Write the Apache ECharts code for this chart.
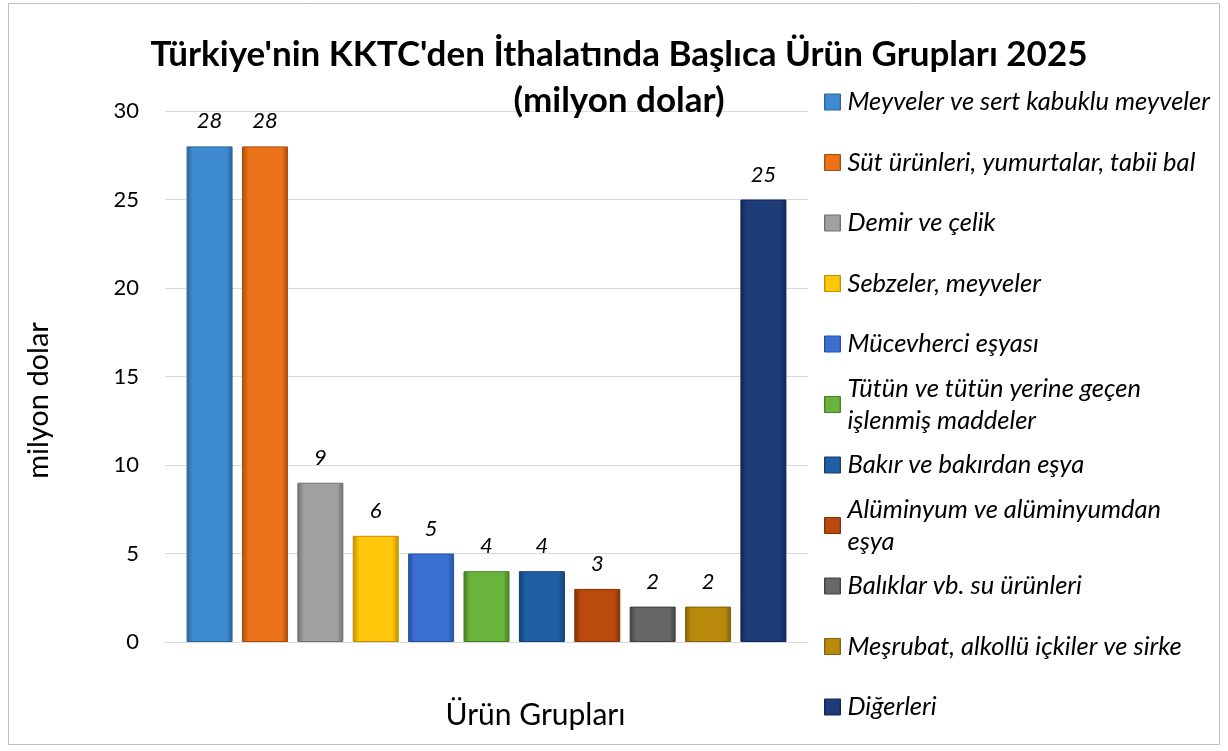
<!DOCTYPE html>
<html>
<head>
<meta charset="utf-8">
<script src="https://cdn.jsdelivr.net/npm/echarts@6/dist/echarts.min.js"></script>
<style>
html,body{margin:0;padding:0;background:#fff;}
#chart{width:1228px;height:751px;}
</style>
</head>
<body>
<div id="chart"></div>
<script>
var titleText = "Türkiye'nin KKTC'den İthalatında Başlıca Ürün Grupları 2025\n(milyon dolar)";
var categories = ["Meyveler ve sert kabuklu meyveler","Süt ürünleri, yumurtalar, tabii bal","Demir ve çelik","Sebzeler, meyveler","Mücevherci eşyası","Tütün ve tütün yerine geçen işlenmiş maddeler","Bakır ve bakırdan eşya","Alüminyum ve alüminyumdan eşya","Balıklar vb. su ürünleri","Meşrubat, alkollü içkiler ve sirke","Diğerleri"];
var legendLabels = ["Meyveler ve sert kabuklu meyveler","Süt ürünleri, yumurtalar, tabii bal","Demir ve çelik","Sebzeler, meyveler","Mücevherci eşyası","Tütün ve tütün yerine geçen\nişlenmiş maddeler","Bakır ve bakırdan eşya","Alüminyum ve alüminyumdan\neşya","Balıklar vb. su ürünleri","Meşrubat, alkollü içkiler ve sirke","Diğerleri"];
var values = [28, 28, 9, 6, 5, 4, 4, 3, 2, 2, 25];
var yTicks = [0, 5, 10, 15, 20, 25, 30];
var xAxisTitle = "Ürün Grupları";
var yAxisTitle = "milyon dolar";

var baseColors = ["#3f8bd2","#ec7219","#a0a0a0","#ffc60a","#3a70d2","#6ab33c","#1f5fa3","#bb4a0e","#676767","#b98a0c","#1e3c78"];
var edgeColors = ["#2a6499","#a84d0c","#707070","#c08f00","#24509e","#467f25","#123f70","#7f3006","#404040","#82620a","#102656"];

var LH = 32;
function barColor(i){
  return {type:'linear',x:0,y:0,x2:1,y2:0,colorStops:[
    {offset:0,color:edgeColors[i]},{offset:0.14,color:baseColors[i]},
    {offset:0.86,color:baseColors[i]},{offset:1,color:edgeColors[i]}]};
}
var series = categories.map(function(name,i){
  return {
    type:'bar', name:name, data:[values[i]],
    barWidth:46, barGap:'20.4%',
    itemStyle:{color:barColor(i), borderColor:edgeColors[i], borderWidth:1},
    label:{show:true, position:'top', distance:14, fontFamily:'Lato', fontStyle:'italic', fontSize:22, color:'#000'}
  };
});
var legendData = categories.map(function(name,i){
  var twoLine = legendLabels[i].indexOf('\n') >= 0;
  return {name:name, itemStyle:{color:barColor(i), borderColor:edgeColors[i], borderWidth:1}, textStyle:{padding: twoLine ? [LH,0,0,2] : [LH,0,LH,2]}};
});

var chart = echarts.init(document.getElementById('chart'));
chart.setOption({
  animation:false,
  backgroundColor:'#fff',
  graphic:[{type:'rect', shape:{x:8.5,y:3.5,width:1211,height:741}, style:{fill:'none', stroke:'#bfbfbf', lineWidth:1}, silent:true}],
  title:{text:titleText, left:614, top:27, textAlign:'center',
    textStyle:{fontFamily:'Lato', fontWeight:'bold', fontSize:35, lineHeight:46, color:'#000'}},
  legend:{
    orient:'vertical', left:819, top:97-1.5*LH, height:900,
    itemWidth:16, itemHeight:16, itemGap:60.5-3*LH,
    icon:'rect',
    data:legendData,
    formatter:function(name){ return legendLabels[categories.indexOf(name)]; },
    textStyle:{fontFamily:'Lato', fontStyle:'italic', fontSize:25.5, lineHeight:LH, color:'#000'}
  },
  grid:{left:165, right:420, top:111, bottom:109, containLabel:false},
  xAxis:{type:'category', data:[''],
    axisLine:{lineStyle:{color:'#d9d9d9', width:1}}, axisTick:{show:false}, axisLabel:{show:false},
    name:xAxisTitle, nameLocation:'middle', nameGap:58,
    nameTextStyle:{fontFamily:'Lato', fontSize:30, color:'#000', padding:[0,0,0,98]}},
  yAxis:{type:'value', min:0, max:30, interval:5,
    axisLine:{show:false}, axisTick:{show:false},
    splitLine:{lineStyle:{color:'#d9d9d9', width:1}},
    axisLabel:{margin:26, fontFamily:'Lato', fontSize:22, color:'#000',
      formatter:function(v){ return yTicks.indexOf(v) >= 0 ? String(v) : ''; }},
    name:yAxisTitle, nameLocation:'middle', nameGap:112, nameRotate:90,
    nameTextStyle:{fontFamily:'Lato', fontSize:29, color:'#000', padding:[0,48,0,0]}},
  series:series
});
</script>
</body>
</html>
